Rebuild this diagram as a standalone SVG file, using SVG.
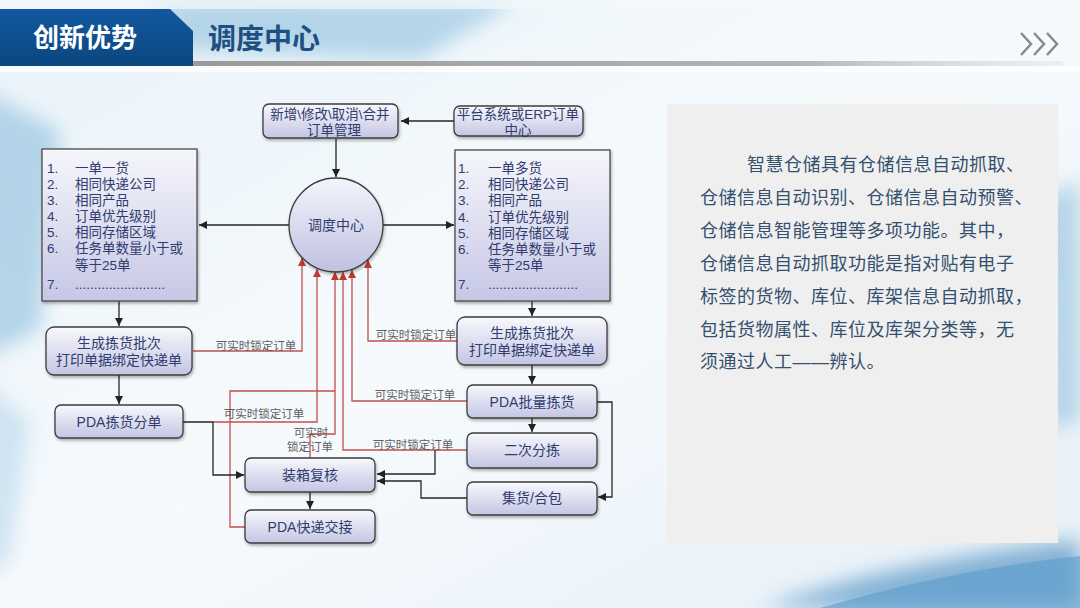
<svg xmlns="http://www.w3.org/2000/svg" width="1080" height="608" viewBox="0 0 1080 608">
<defs>
<linearGradient id="bg" x1="0" y1="0" x2="1" y2="1">
<stop offset="0" stop-color="#e9f3f9"/>
<stop offset="0.5" stop-color="#f6fafd"/>
<stop offset="1" stop-color="#e6f0f7"/>
</linearGradient>
<linearGradient id="nodeGrad" x1="0" y1="0" x2="0" y2="1">
<stop offset="0" stop-color="#f8f8fd"/>
<stop offset="1" stop-color="#c4c5e3"/>
</linearGradient>
<linearGradient id="listGrad" x1="0" y1="0" x2="0" y2="1">
<stop offset="0" stop-color="#f6f6fc"/>
<stop offset="1" stop-color="#c6c7e5"/>
</linearGradient>
<linearGradient id="circGrad" x1="0" y1="0" x2="0" y2="1">
<stop offset="0" stop-color="#f4f4fb"/>
<stop offset="1" stop-color="#bfc1e1"/>
</linearGradient>
<linearGradient id="sep" x1="0" y1="0" x2="1" y2="0">
<stop offset="0" stop-color="#9a9a9a"/>
<stop offset="0.7" stop-color="#b5b5b5"/>
<stop offset="1" stop-color="#d8d8d8" stop-opacity="0.3"/>
</linearGradient>
<linearGradient id="tab" x1="0" y1="0" x2="0" y2="1">
<stop offset="0" stop-color="#1258a0"/>
<stop offset="1" stop-color="#0b477f"/>
</linearGradient>
<filter id="blur" x="-20%" y="-20%" width="140%" height="140%"><feGaussianBlur stdDeviation="10"/></filter>
<filter id="shadow" x="-10%" y="-10%" width="130%" height="140%"><feDropShadow dx="1" dy="2" stdDeviation="1.5" flood-color="#000" flood-opacity="0.3"/></filter>
<marker id="ab" viewBox="0 0 8 8" refX="8" refY="4" markerWidth="8" markerHeight="8" markerUnits="userSpaceOnUse" orient="auto"><path d="M0,0 L8,4 L0,8 z" fill="#222"/></marker>
<marker id="ar" viewBox="0 0 8 8" refX="8" refY="4" markerWidth="8" markerHeight="8" markerUnits="userSpaceOnUse" orient="auto"><path d="M0,0 L8,4 L0,8 z" fill="#c0392b"/></marker>
<style>
text{font-family:"Liberation Sans","Noto Sans CJK SC",sans-serif}
.box{fill:url(#nodeGrad);stroke:#3c3c3c;stroke-width:1.3;filter:url(#shadow)}
.list{fill:url(#listGrad);stroke:#4a4a4a;stroke-width:1.3;filter:url(#shadow)}
.lbl{font-size:14px;fill:#2f3c6e;text-anchor:middle}
.sm{font-size:13.5px}
.li{font-size:13.5px;fill:#2f3c6e}
.blk{fill:none;stroke:#262626;stroke-width:1.3;marker-end:url(#ab)}
.red{fill:none;stroke:#c0504d;stroke-width:1.3;marker-end:url(#ar)}
.rd0{fill:none;stroke:#c0504d;stroke-width:1.3}
.rl{font-size:11.5px;fill:#606060;text-anchor:middle}
.pt{font-size:18px;fill:#34506e;letter-spacing:0.5px}
</style>
</defs>

<!-- background -->
<rect width="1080" height="608" fill="url(#bg)"/>
<g filter="url(#blur)" opacity="0.6">
<path d="M150,0 L520,0 L420,60 L180,50 Z" fill="#8fc0de"/>
<path d="M-20,90 L60,130 L40,330 L-20,360 Z" fill="#8dbedd"/>
<path d="M-20,380 L30,420 L10,560 L-20,580 Z" fill="#b7d6ea"/>
<path d="M760,608 Q900,560 1080,540 L1080,608 Z" fill="#3f86bd"/>
<path d="M1040,200 L1080,180 L1080,420 L1050,430 Z" fill="#8fbedc"/>
</g>
<path d="M820,608 Q950,570 1080,556 L1080,608 Z" fill="#5c9ccb" opacity="0.6"/>

<!-- header -->
<rect x="0" y="0" width="1080" height="9" fill="#f4f8fb" opacity="0.7"/>
<polygon points="0,9 170,9 193,31 193,66 0,66" fill="url(#tab)"/>
<rect x="193" y="61" width="870" height="5" fill="url(#sep)"/>
<rect x="0" y="66" width="1080" height="6" fill="#ffffff" opacity="0.7"/>
<text x="33" y="47" font-size="26" font-weight="bold" fill="#ffffff">创新优势</text>
<text x="208" y="49" font-size="28" font-weight="bold" fill="#1d4f80">调度中心</text>
<g fill="none" stroke="#8a8a8a" stroke-width="2.5">
<polyline points="1021,33 1031,44 1021,55"/>
<polyline points="1034,33 1044,44 1034,55"/>
<polyline points="1047,33 1057,44 1047,55"/>
</g>

<!-- right text panel -->
<g id="panel">
<rect x="667" y="104" width="391" height="439" fill="#efeff0"/>
<text class="pt" x="747" y="171">智慧仓储具有仓储信息自动抓取、</text>
<text class="pt" x="700" y="204">仓储信息自动识别、仓储信息自动预警、</text>
<text class="pt" x="700" y="237">仓储信息智能管理等多项功能。其中，</text>
<text class="pt" x="700" y="270">仓储信息自动抓取功能是指对贴有电子</text>
<text class="pt" x="700" y="303">标签的货物、库位、库架信息自动抓取，</text>
<text class="pt" x="700" y="336">包括货物属性、库位及库架分类等，无</text>
<text class="pt" x="700" y="368">须通过人工——辨认。</text>
</g>

<!-- connectors -->
<g id="connectors">
<path class="red" d="M193,351 L302,351 L302,258"/>
<path class="red" d="M457,341 L368,341 L368,260"/>
<path class="red" d="M467,401 L352,401 L352,270"/>
<path class="red" d="M213,422 L317,422 L317,269"/>
<path class="red" d="M467,450 L343,450 L343,272"/>
<path class="rd0" d="M245,527 L230,527 L230,391 L335,391"/>
<path class="red" d="M310,458 L310,434 L335,434 L335,272"/>

<path class="blk" d="M454,121 L401,121"/>
<path class="blk" d="M336,139 L336,177"/>
<path class="blk" d="M289,225 L199,225"/>
<path class="blk" d="M383,225 L454,225"/>
<path class="blk" d="M119,301 L119,326"/>
<path class="blk" d="M119,375 L119,404"/>
<path class="blk" d="M183,422 L213,422 L213,475 L244,475"/>
<path class="blk" d="M532,301 L532,316"/>
<path class="blk" d="M532,365 L532,384"/>
<path class="blk" d="M532,418 L532,432"/>
<path class="blk" d="M597,402 L612,402 L612,497 L598,497"/>
<path class="blk" d="M435,450 L435,474 L377,474"/>
<path class="blk" d="M467,498 L421,498 L421,481 L377,481"/>
<path class="blk" d="M310,492 L310,509"/>

<text class="rl" x="256" y="350">可实时锁定订单</text>
<text class="rl" x="416" y="339">可实时锁定订单</text>
<text class="rl" x="415" y="399">可实时锁定订单</text>
<text class="rl" x="264" y="418">可实时锁定订单</text>
<text class="rl" x="413" y="449">可实时锁定订单</text>
<text class="rl" x="311" y="437">可实时</text>
<text class="rl" x="310" y="451">锁定订单</text>
</g>

<!-- nodes -->
<g id="order-mgmt">
<rect class="box" x="263" y="104" width="135" height="34" rx="6"/>
<text class="lbl sm" x="330" y="119">新增\修改\取消\合并</text>
<text class="lbl sm" x="334" y="135">订单管理</text>
</g>
<g id="erp">
<rect class="box" x="454" y="106" width="129" height="30" rx="6"/>
<text class="lbl sm" x="518" y="119">平台系统或ERP订单</text>
<text class="lbl sm" x="518" y="135">中心</text>
</g>
<g id="dispatch">
<circle cx="336" cy="225" r="47" fill="url(#circGrad)" stroke="#3c3c3c" stroke-width="1.3" filter="url(#shadow)"/>
<text class="lbl" x="336" y="230" font-size="13">调度中心</text>
</g>
<g id="list-left">
<rect class="list" x="42" y="149" width="155" height="152"/>
<text class="li" x="47" y="173">1.</text><text class="li" x="75" y="173">一单一货</text>
<text class="li" x="47" y="189">2.</text><text class="li" x="75" y="189">相同快递公司</text>
<text class="li" x="47" y="205">3.</text><text class="li" x="75" y="205">相同产品</text>
<text class="li" x="47" y="221">4.</text><text class="li" x="75" y="221">订单优先级别</text>
<text class="li" x="47" y="237">5.</text><text class="li" x="75" y="237">相同存储区域</text>
<text class="li" x="47" y="253">6.</text><text class="li" x="75" y="253">任务单数量小于或</text>
<text class="li" x="75" y="270">等于25单</text>
<text class="li" x="47" y="289">7.</text><text class="li" x="75" y="289">........................</text>
</g>
<g id="list-right">
<rect class="list" x="455" y="150" width="155" height="151"/>
<text class="li" x="458" y="173">1.</text><text class="li" x="488" y="173">一单多货</text>
<text class="li" x="458" y="189">2.</text><text class="li" x="488" y="189">相同快递公司</text>
<text class="li" x="458" y="205">3.</text><text class="li" x="488" y="205">相同产品</text>
<text class="li" x="458" y="222">4.</text><text class="li" x="488" y="222">订单优先级别</text>
<text class="li" x="458" y="238">5.</text><text class="li" x="488" y="238">相同存储区域</text>
<text class="li" x="458" y="254">6.</text><text class="li" x="488" y="254">任务单数量小于或</text>
<text class="li" x="488" y="270">等于25单</text>
<text class="li" x="458" y="289">7.</text><text class="li" x="488" y="289">........................</text>
</g>
<g id="batch-left">
<rect class="box" x="46" y="327" width="146" height="48" rx="8"/>
<text class="lbl" x="119" y="348">生成拣货批次</text>
<text class="lbl" x="119" y="365">打印单据绑定快递单</text>
</g>
<g id="batch-right">
<rect class="box" x="457" y="317" width="150" height="48" rx="8"/>
<text class="lbl" x="532" y="338">生成拣货批次</text>
<text class="lbl" x="532" y="355">打印单据绑定快递单</text>
</g>
<g id="pda-split">
<rect class="box" x="55" y="405" width="128" height="33" rx="6"/>
<text class="lbl" x="119" y="427">PDA拣货分单</text>
</g>
<g id="pda-batch">
<rect class="box" x="467" y="385" width="130" height="33" rx="6"/>
<text class="lbl" x="532" y="407">PDA批量拣货</text>
</g>
<g id="second-sort">
<rect class="box" x="467" y="433" width="130" height="35" rx="6"/>
<text class="lbl" x="532" y="455">二次分拣</text>
</g>
<g id="consolidate">
<rect class="box" x="467" y="482" width="130" height="33" rx="6"/>
<text class="lbl" x="532" y="503">集货/合包</text>
</g>
<g id="pack-check">
<rect class="box" x="245" y="458" width="130" height="34" rx="6"/>
<text class="lbl" x="310" y="480">装箱复核</text>
</g>
<g id="pda-handover">
<rect class="box" x="245" y="510" width="130" height="33" rx="6"/>
<text class="lbl" x="310" y="532">PDA快递交接</text>
</g>
</svg>
